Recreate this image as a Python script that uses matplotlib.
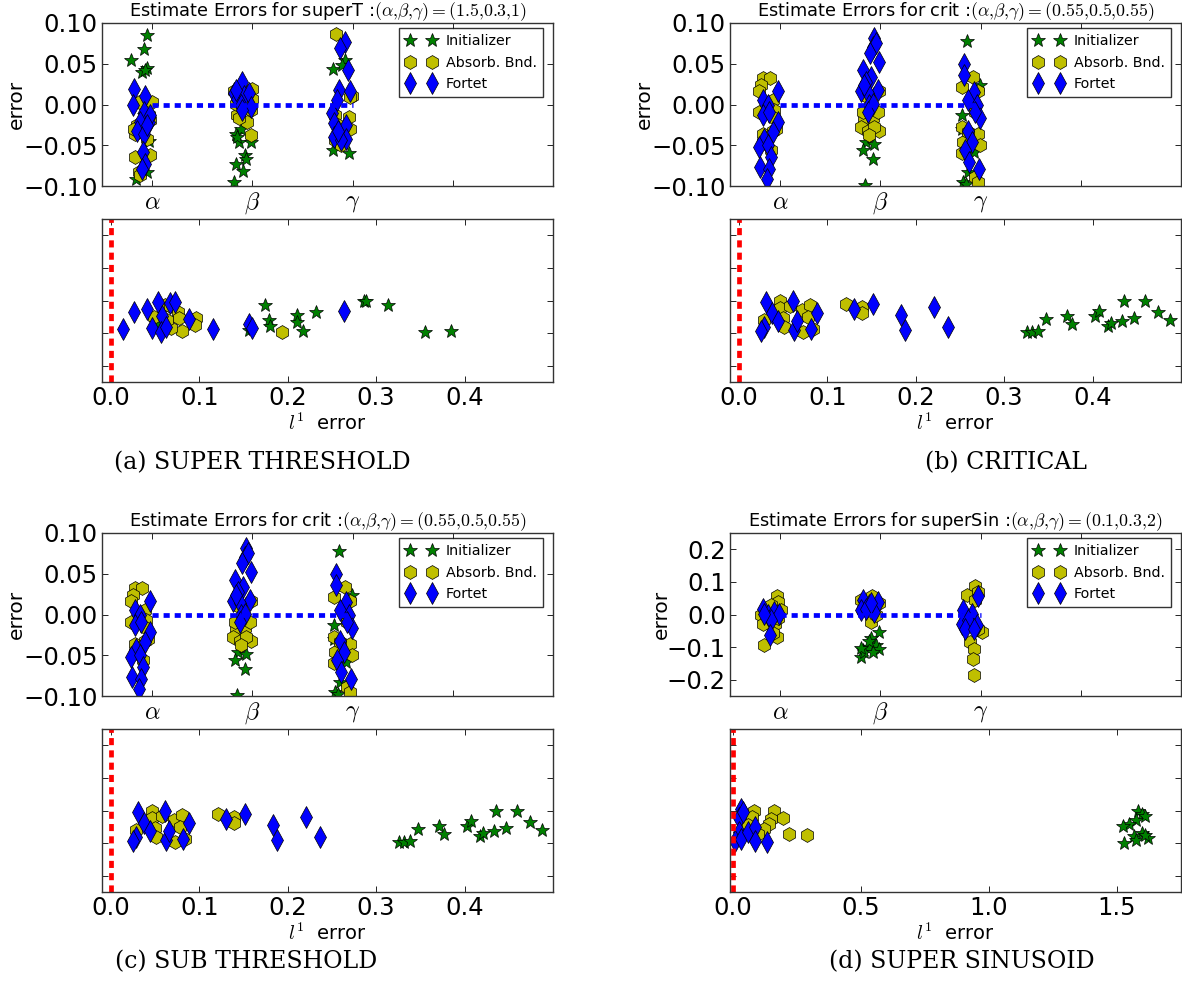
import numpy as np
import matplotlib
matplotlib.use("Agg")
import matplotlib.pyplot as plt

plt.rcParams["mathtext.fontset"] = "cm"
plt.rcParams["font.family"] = "DejaVu Sans"

W, H = 1182, 991

# ---- (a) superT : top = (x position, error), low = (l1 error, jitter)
a_init_top = [(0.95, 0.085), (0.923, 0.068), (0.793, 0.054), (0.95, 0.045), (0.90, 0.040),
              (0.927, 0.042), (0.837, -0.091), (0.95, -0.083), (0.967, -0.045), (0.92, -0.013),
              (1.833, -0.036), (1.867, -0.046), (1.983, -0.046), (1.923, -0.062), (1.933, -0.067),
              (1.833, -0.073), (1.91, -0.082), (1.817, -0.095), (1.883, -0.030), (1.85, -0.040),
              (2.803, 0.043), (2.92, 0.054), (2.893, 0.048), (2.80, -0.056), (2.96, -0.060)]
a_absb_top = [(0.85, -0.025), (0.833, -0.036), (0.983, -0.019), (1.0, 0.003), (0.867, 0.003),
              (0.95, -0.042), (0.833, -0.064), (0.983, -0.062), (0.867, -0.083), (0.883, -0.087),
              (0.967, -0.013), (0.817, -0.030),
              (1.817, 0.016), (2.0, 0.019), (2.0, 0.007), (1.983, -0.007), (1.85, -0.013),
              (1.95, -0.021), (1.867, -0.017), (1.983, -0.038), (1.833, 0.001),
              (2.833, 0.087), (2.993, 0.011), (2.96, -0.015), (2.827, -0.013), (2.977, -0.030),
              (2.827, -0.044), (2.883, -0.050), (2.85, -0.025), (2.977, 0.009)]
a_fort_top = [(0.823, 0.019), (0.81, -0.001), (0.933, 0.011), (0.917, -0.009), (0.967, -0.021),
              (0.883, -0.021), (0.85, -0.032), (0.917, -0.036), (0.983, -0.013), (0.91, -0.058),
              (0.933, -0.073), (0.90, -0.079), (0.95, -0.025),
              (1.9, 0.028), (1.817, 0.0135), (1.85, 0.007), (1.917, 0.011), (1.967, 0.0135),
              (1.883, -0.001), (1.983, -0.003), (1.9, -0.007), (1.833, 0.018),
              (2.927, 0.077), (2.877, 0.069), (2.957, 0.042), (2.867, 0.018), (2.977, 0.016),
              (2.843, 0.005), (2.79, -0.011), (2.817, -0.023), (2.933, -0.025), (2.817, -0.040),
              (2.933, -0.042), (2.883, -0.044), (2.85, -0.032)]
a_init_low = [(0.174, 1.87), (0.179, 1.41), (0.180, 1.22), (0.210, 1.56), (0.211, 1.34),
              (0.217, 1.07), (0.232, 1.64), (0.286, 2.0), (0.288, 1.97), (0.313, 1.87),
              (0.355, 1.03), (0.385, 1.05), (0.156, 1.08), (0.051, 1.31)]
a_absb_low = [(0.049, 1.49), (0.061, 1.87), (0.067, 1.82), (0.076, 1.66), (0.077, 1.46),
              (0.080, 1.05), (0.096, 1.46), (0.095, 1.26), (0.068, 1.15), (0.193, 1.03),
              (0.064, 1.41)]
a_fort_low = [(0.0136, 1.12), (0.026, 1.64), (0.041, 1.73), (0.053, 1.94), (0.046, 1.15),
              (0.058, 1.51), (0.057, 1.02), (0.062, 1.20), (0.067, 1.92), (0.073, 1.94),
              (0.088, 1.43), (0.116, 1.12), (0.156, 1.29), (0.160, 1.15), (0.264, 1.68)]

# ---- (b) crit
b_init_top = [(1.857, -0.046), (1.94, -0.048), (1.823, -0.056), (1.923, -0.067), (1.85, -0.099),
              (2.867, 0.078), (2.993, 0.024), (2.81, -0.013), (2.81, -0.030), (2.937, -0.058),
              (2.877, -0.083), (2.827, -0.095), (2.85, -0.097)]
b_absb_top = [(0.827, 0.032), (0.903, 0.032), (0.81, 0.024), (0.793, 0.016), (0.927, 0.005),
              (0.943, -0.007), (0.943, -0.017), (0.827, -0.036), (0.927, -0.032), (0.96, -0.030),
              (0.827, -0.046), (0.91, -0.056), (0.877, -0.040), (0.793, -0.009),
              (1.84, -0.019), (1.923, -0.017), (1.807, -0.027), (1.873, -0.032), (1.99, -0.032),
              (1.94, -0.027), (1.89, -0.038), (1.823, -0.009), (1.973, -0.009), (1.99, 0.016),
              (1.857, 0.011),
              (2.927, 0.034), (2.81, 0.022), (2.977, 0.016), (2.943, -0.009), (2.81, -0.027),
              (2.827, -0.046), (2.977, -0.036), (2.993, -0.050), (2.81, -0.060), (2.943, -0.089),
              (2.977, -0.095), (2.877, -0.034)]
b_fort_top = [(0.983, 0.016), (0.827, 0.005), (0.877, -0.001), (0.827, -0.013), (0.893, -0.009),
              (0.977, -0.021), (0.927, -0.034), (0.837, -0.042), (0.793, -0.052), (0.877, -0.050),
              (0.91, -0.064), (0.803, -0.077), (0.893, -0.079), (0.87, -0.091),
              (1.94, 0.081), (1.923, 0.071), (1.957, 0.075), (1.9, 0.063), (1.99, 0.052),
              (1.823, 0.042), (1.907, 0.034), (1.857, 0.028), (1.807, 0.016), (1.973, 0.018),
              (1.873, 0.0135), (1.89, -0.001), (1.923, 0.001), (1.873, -0.009), (1.84, 0.024),
              (2.837, 0.050), (2.837, 0.036), (2.937, 0.015), (2.877, 0.005), (2.96, -0.001),
              (2.993, -0.017), (2.877, -0.032), (2.91, -0.046), (2.843, -0.056), (2.887, -0.070),
              (2.983, -0.079), (2.943, -0.009)]
b_init_low = [(0.326, 1.02), (0.332, 1.02), (0.338, 1.05), (0.347, 1.44), (0.371, 1.51),
              (0.377, 1.28), (0.403, 1.51), (0.407, 1.68), (0.417, 1.22), (0.421, 1.30),
              (0.433, 1.36), (0.435, 1.97), (0.447, 1.46), (0.459, 2.0), (0.474, 1.64),
              (0.487, 1.41)]
b_absb_low = [(0.029, 1.41), (0.047, 1.97), (0.047, 1.77), (0.050, 1.46), (0.051, 1.20),
              (0.058, 1.84), (0.071, 1.71), (0.073, 1.02), (0.080, 1.87), (0.078, 1.48),
              (0.084, 1.12), (0.121, 1.90), (0.139, 1.80), (0.139, 1.61)]
b_fort_low = [(0.031, 1.94), (0.028, 1.20), (0.025, 1.05), (0.038, 1.61), (0.044, 1.36),
              (0.061, 1.97), (0.062, 1.10), (0.066, 1.36), (0.082, 1.12), (0.088, 1.61),
              (0.130, 1.73), (0.152, 1.90), (0.183, 1.56), (0.188, 1.10), (0.221, 1.80),
              (0.237, 1.20)]

# ---- (c) sub threshold: same runs as (b)
c_init_top, c_absb_top, c_fort_top = b_init_top, b_absb_top, b_fort_top
c_init_low, c_absb_low, c_fort_low = b_init_low, b_absb_low, b_fort_low

# ---- (d) superSin
d_init_top = [(1.99, -0.055), (1.907, -0.073), (1.823, -0.109), (1.807, -0.13), (1.873, -0.099),
              (1.957, -0.094), (1.99, -0.106), (1.84, -0.116), (1.923, -0.114), (1.89, -0.082),
              (1.803, -0.104)]
d_absb_top = [(0.97, 0.057), (0.983, 0.039), (0.91, 0.029), (0.81, -0.002), (0.86, -0.022),
              (0.95, -0.028), (0.983, -0.012), (0.837, -0.094), (0.97, -0.068), (0.927, -0.058),
              (0.827, -0.028), (1.01, 0.013),
              (1.807, 0.044), (1.913, 0.057), (1.99, 0.034), (1.907, -0.022), (1.823, 0.013),
              (1.96, -0.002),
              (2.943, 0.087), (2.86, 0.059), (2.977, 0.069), (2.943, 0.044), (3.01, -0.053),
              (2.893, -0.084), (2.937, -0.106), (2.927, -0.135), (2.933, -0.186), (2.843, -0.022),
              (2.977, -0.043)]
d_fort_top = [(0.827, 0.018), (0.877, -0.002), (0.943, 0.008), (0.993, 0.003), (0.91, -0.017),
              (0.903, -0.063), (0.843, 0.003),
              (1.823, 0.044), (1.973, 0.039), (1.89, 0.029), (1.807, 0.013), (1.94, 0.008),
              (1.857, 0.018), (1.907, 0.034),
              (2.977, 0.057), (2.827, 0.013), (2.91, 0.003), (2.81, -0.028), (2.877, -0.017),
              (2.96, -0.033), (2.843, -0.043), (2.937, -0.045)]
d_init_low = [(1.584, 2.0), (1.596, 1.89), (1.608, 1.82), (1.574, 1.72), (1.547, 1.59),
              (1.522, 1.51), (1.599, 1.31), (1.567, 1.23), (1.622, 1.16), (1.574, 1.11),
              (1.529, 1.00), (1.611, 1.26)]
d_absb_low = [(0.084, 2.0), (0.162, 1.97), (0.195, 1.77), (0.150, 1.74), (0.074, 1.80),
              (0.143, 1.59), (0.124, 1.44), (0.221, 1.28), (0.291, 1.26), (0.099, 1.28),
              (0.062, 1.54)]
d_fort_low = [(0.032, 2.04), (0.025, 1.76), (0.025, 1.33), (0.010, 1.07), (0.032, 1.12),
              (0.062, 1.33), (0.087, 1.48), (0.087, 1.07), (0.136, 1.02), (0.040, 1.94)]

param_ticks = [1, 2, 3, 4, 5]
param_labels = [r"$\alpha$", r"$\beta$", r"$\gamma$", "", ""]
methods = [("*", "g", 10, "Initializer"), ("h", "y", 10, "Absorb. Bnd."), ("d", "b", 11, "Fortet")]


def box(l, t, r, b):
    return [l / W, 1 - b / H, (r - l) / W, (b - t) / H]


def style_ax(ax):
    ax.tick_params(direction="in", top=True, right=True, length=4, width=0.6,
                   labelsize=17.5, pad=3)
    for s in ax.spines.values():
        s.set_linewidth(1.0)
        s.set_color("#333333")


def panel(fig, left, top, title, ylim, yticks, tops, lows, xlim, xticks, ylab_x):
    right = left + 451
    ax = fig.add_axes(box(left, top, right, top + 163))
    for (m, c, ms, lab), pts in zip(methods, tops):
        p = np.array(pts)
        ax.plot(p[:, 0], p[:, 1], m, color=c, ms=ms, mec="k", mew=0.5, label=lab)
    ax.plot([1, 3], [0, 0], color="b", lw=3.4, ls=(0, (1.3, 1.05)))
    ax.set_xlim(0.5, 5)
    ax.set_ylim(*ylim)
    ax.set_yticks(yticks)
    ax.set_xticks(param_ticks)
    ax.set_xticklabels(param_labels)
    ax.set_ylabel("error", fontsize=14.5, va="center")
    ax.yaxis.set_label_coords((ylab_x - left) / 451, 0.5)
    ax.set_title(title, fontsize=12.8, pad=5)
    style_ax(ax)
    leg = ax.legend(loc="upper right", bbox_to_anchor=(1 - 10 / 451, 1 - 5 / 163),
                    borderaxespad=0, numpoints=2, fontsize=10.3, fancybox=False,
                    handlelength=2.15, handletextpad=0.65, labelspacing=0.5,
                    borderpad=0.45)
    leg.get_frame().set_edgecolor("k")
    leg.get_frame().set_linewidth(1.0)

    ax2 = fig.add_axes(box(left, top + 196, right, top + 359))
    for (m, c, ms, lab), pts in zip(methods, lows):
        p = np.array(pts)
        ax2.plot(p[:, 0], p[:, 1], m, color=c, ms=ms, mec="k", mew=0.5)
    ax2.plot([0, 0], [-0.5, 4.5], color="r", lw=3.4, ls=(0, (1.5, 1.1)))
    ax2.set_ylim(-0.5, 4.5)
    ax2.set_yticks([0, 1, 2, 3, 4])
    ax2.set_yticklabels([])
    ax2.set_xlim(*xlim)
    ax2.set_xticks(xticks)
    ax2.set_xlabel(r"$l^1$  error", fontsize=14, labelpad=2)
    style_ax(ax2)


fig = plt.figure(figsize=(W / 100, H / 100), dpi=100)

err_ticks = [-0.10, -0.05, 0.0, 0.05, 0.10]
l1_ticks = [0.0, 0.1, 0.2, 0.3, 0.4]

panel(fig, 102, 23, r"Estimate Errors for superT :$(\alpha{,}\beta{,}\gamma)=(1.5{,}0.3{,}1)$",
      (-0.1, 0.1), err_ticks, [a_init_top, a_absb_top, a_fort_top],
      [a_init_low, a_absb_low, a_fort_low], (-0.01, 0.5), l1_ticks, 16)
panel(fig, 730, 23, r"Estimate Errors for crit :$(\alpha{,}\beta{,}\gamma)=(0.55{,}0.5{,}0.55)$",
      (-0.1, 0.1), err_ticks, [b_init_top, b_absb_top, b_fort_top],
      [b_init_low, b_absb_low, b_fort_low], (-0.01, 0.5), l1_ticks, 644)
panel(fig, 102, 533, r"Estimate Errors for crit :$(\alpha{,}\beta{,}\gamma)=(0.55{,}0.5{,}0.55)$",
      (-0.1, 0.1), err_ticks, [c_init_top, c_absb_top, c_fort_top],
      [c_init_low, c_absb_low, c_fort_low], (-0.01, 0.5), l1_ticks, 16)
panel(fig, 730, 533, r"Estimate Errors for superSin :$(\alpha{,}\beta{,}\gamma)=(0.1{,}0.3{,}2)$",
      (-0.25, 0.25), [-0.2, -0.1, 0.0, 0.1, 0.2], [d_init_top, d_absb_top, d_fort_top],
      [d_init_low, d_absb_low, d_fort_low], (-0.01, 1.75), [0.0, 0.5, 1.0, 1.5], 661)

captions = [(262, 463, "(a) SUPER THRESHOLD"), (1006, 463, "(b) CRITICAL"),
            (246, 962, "(c) SUB THRESHOLD"), (962, 962, "(d) SUPER SINUSOID")]
for x, y, txt in captions:
    fig.text(x / W, 1 - y / H, txt, ha="center", va="center",
             family="DejaVu Serif", fontsize=17)

fig.savefig("out.png", dpi=100)
